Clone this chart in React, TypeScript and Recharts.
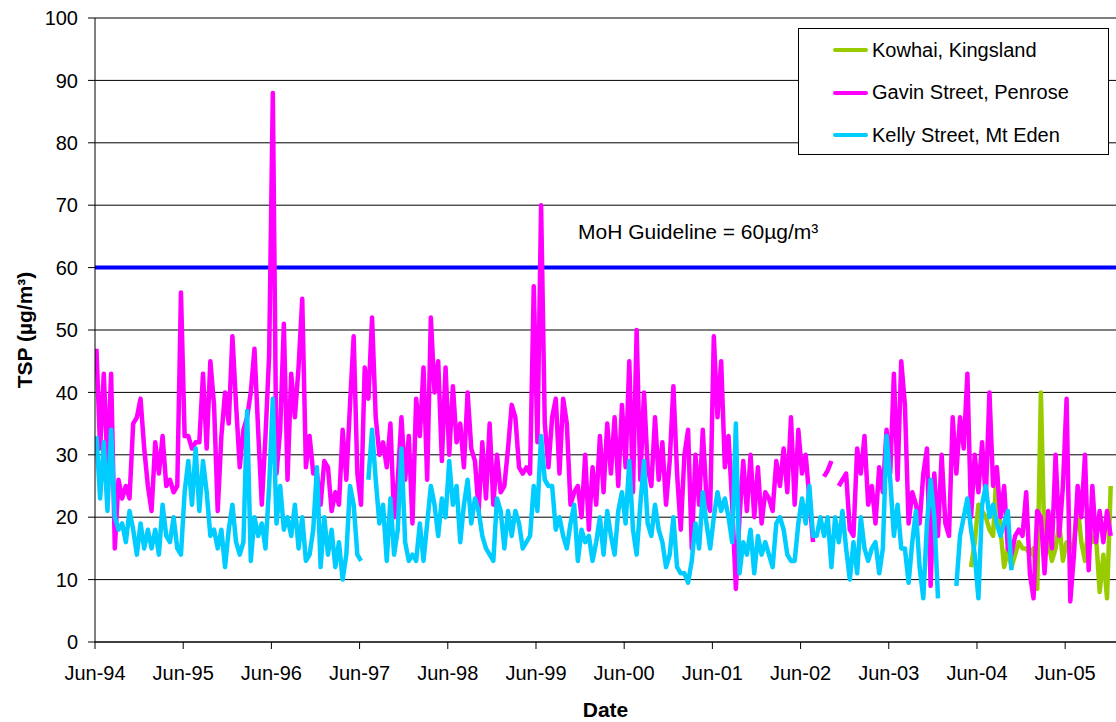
import {
  CartesianGrid,
  Legend,
  Line,
  LineChart,
  ReferenceLine,
  XAxis,
  YAxis,
} from "recharts";

const FONT = "'Liberation Sans', Arial, sans-serif";

// samples are roughly twice a month, first one just after 1 June 1994
const firstSample = 1994.43;
const sampleStep = 1 / 24;

// 1 June of each year as a decimal year
const JUNE = 151 / 365;
const tickYears = [1994, 1995, 1996, 1997, 1998, 1999, 2000, 2001, 2002, 2003, 2004, 2005];
const yTicks = [0, 10, 20, 30, 40, 50, 60, 70, 80, 90, 100];

// TSP, ug/m3
const gavin = [
  47, 31, 43, 28, 43, 15, 26, 23, 25, 23, 35, 36, 39, 31, 25, 21, 32, 27, 33, 25,
  26, 24, 25, 56, 33, 33, 31, 32, 32, 43, 31, 45, 38, 21, 33, 40, 35, 49, 38, 28,
  34, 36, 40, 47, 34, 22, 33, 46, 88, 27, 34, 51, 26, 43, 36, 44, 55, 28, 33, 27,
  27, 22, 29, 28, 21, 24, 22, 34, 26, 38, 49, 27, 22, 44, 39, 52, 36, 30, 32, 28,
  35, 20, 26, 36, 26, 33, 19, 39, 33, 44, 26, 52, 40, 45, 29, 44, 30, 41, 32, 35,
  28, 40, 31, 29, 21, 32, 23, 35, 22, 30, 24, 25, 31, 38, 36, 28, 27, 28, 27, 57,
  32, 70, 35, 28, 36, 39, 27, 39, 35, 22, 24, 25, 20, 30, 18, 28, 22, 33, 24, 35,
  27, 36, 25, 38, 28, 45, 24, 50, 26, 40, 28, 25, 36, 26, 32, 22, 29, 41, 27, 18,
  30, 34, 15, 30, 22, 34, 23, 21, 49, 36, 45, 28, 33, 22, 8.5, 20, 29, 21, 30, 20,
  28, 19, 24, 23, 21, 29, 25, 31, 24, 36, 22, 34, 27, 30, 23, 16, null, null, 26.5, 27.5,
  29, null, 25, 26, 27, 18, 17, 31, 27, 33, 22, 25, 19, 28, 24, 34, 27, 43, 26, 45,
  38, 19, 24, 22, 19, 27, 31, 9, 27, 17, 30, 19, 17, 36, 27, 36, 31, 43, 20, 30,
  24, 32, 23, 40, 25, 28, 20, 25, 15, 14, 17, 18, 17, 24, 11, 7, 21, 20, 11, 21,
  15, 30, 17, 25, 39, 6.5, 14, 25, 20, 30, 11.5, 25, 16, 21, 16, 21, 17,
];

const kelly = [
  33, 23, 32, 21, 34, 20, 18, 19, 16, 21, 18, 14, 19, 15, 18, 15, 18, 14, 22, 17,
  16, 20, 15, 14, 24, 29, 22, 31, 21, 29, 24, 17, 18, 15, 18, 12, 18, 22, 16, 14,
  16, 37, 13, 20, 17, 19, 15, 25, 39, 19, 25, 18, 20, 17, 22, 15, 20, 13, 14, 18,
  28, 12, 20, 14, 18, 12, 16, 10, 14, 25, 22, 14, 13, null, 26, 34, 26, 19, 22, 13,
  23, 14, 18, 31, 16, 13, 14, 13, 19, 13, 19, 25, 22, 17, 23, 20, 29, 22, 25, 16,
  22, 26, 19, 23, 21, 17, 15, 14, 13, 23, 21, 15, 21, 17, 21, 19, 15, 16, 17, 25,
  21, 33, 26, 25, 25, 18, 20, 17, 15, 19, 22, 13, 18, 16, 17, 13, 16, 20, 14, 21,
  17, 14, 21, 24, 19, 29, 18, 14, 22, 29, 19, 17, 22, 18, 16, 12, 14, 20, 12, 11,
  11, 9.5, 13, 19, 15, 24, 19, 15, 20, 24, 21, 23, 20, 16, 35, 11, 16, 14, 18, 11,
  17, 14, 16, 14, 12, 19, 20, 18, 14, 13, 13, 19, 23, 19, 25, 17, 17, 20, 17, 20,
  12, 20, 16, 21, 15, 10, 16, 11, 20, 15, 13, 15, 16, 11, 15, 33, 26, 17, 22, 15,
  15, 9.5, 16, 21, 12, 7, 19, 26, 20, 7, null, null, null, null, 9, 17, 20, 23, 18, 14,
  7, 22, 25, 20, 22, 19, 17, 19, 21, 11.5,
];

// Kowhai monitoring starts mid 2004 (sample 238)
const kowhaiStart = 238;
const kowhai = [
  12, 16, 22, 21, 20, 18, 17, 28, 18, 12, 15, 12, 14, 16, 15, 15, 14, 15, 8.5, 40,
  15, 16, 13, 15, 19, 13, 16, 15, 16, 22, 16, 13, 19, 16, 17, 8, 14, 7, 25,
];

const guideline = 60;

const series = [
  { key: "kowhai", name: "Kowhai, Kingsland", color: "#99CC00" },
  { key: "gavin", name: "Gavin Street, Penrose", color: "#FF00FF" },
  { key: "kelly", name: "Kelly Street, Mt Eden", color: "#00CCFF" },
];

const data = gavin.map((g, i) => ({
  t: firstSample + i * sampleStep,
  gavin: g,
  kelly: i < kelly.length ? kelly[i] : null,
  kowhai: i >= kowhaiStart ? kowhai[i - kowhaiStart] : null,
}));

const xTicks = tickYears.map((y) => y + JUNE);

const LegendBox = () => (
  <div
    style={{
      width: 311,
      height: 127,
      boxSizing: "border-box",
      border: "1px solid #000",
      background: "#fff",
      fontFamily: FONT,
      fontSize: 20,
      color: "#000",
    }}
  >
    {series.map((s) => (
      <div key={s.key} style={{ display: "flex", alignItems: "center", height: 42.5 }}>
        <svg width={35} height={6} style={{ marginLeft: 34 }}>
          <line x1={2} y1={3} x2={33} y2={3} stroke={s.color} strokeWidth={4} strokeLinecap="round" />
        </svg>
        <span style={{ marginLeft: 4, whiteSpace: "nowrap" }}>{s.name}</span>
      </div>
    ))}
  </div>
);

const App = () => {
  return (
    <div style={{ position: "absolute", left: 0, top: 0, background: "#fff" }}>
      <LineChart
        width={1116}
        height={722}
        data={data}
        margin={{ top: 18, right: 0, bottom: 0, left: 0 }}
      >
        <CartesianGrid vertical={false} stroke="#000" strokeWidth={1} />
        <XAxis
          dataKey="t"
          type="number"
          domain={[1994 + JUNE, 2005.99]}
          ticks={xTicks}
          allowDataOverflow
          height={80}
          tickFormatter={(v: number) => `Jun-${String(Math.floor(v) % 100).padStart(2, "0")}`}
          tick={{ fill: "#000", fontSize: 20, fontFamily: FONT }}
          tickSize={7}
          tickMargin={17}
          axisLine={{ stroke: "#000" }}
          tickLine={{ stroke: "#000" }}
          label={(props: any) => {
            const vb = props.viewBox;
            return (
              <text
                x={vb.x + vb.width / 2}
                y={vb.y + 75}
                textAnchor="middle"
                fontFamily={FONT}
                fontSize={21}
                fontWeight="bold"
                fill="#000"
              >
                Date
              </text>
            );
          }}
        />
        <YAxis
          type="number"
          domain={[0, 100]}
          ticks={yTicks}
          width={95}
          tick={{ fill: "#000", fontSize: 20, fontFamily: FONT }}
          tickSize={7}
          tickMargin={10}
          axisLine={{ stroke: "#000" }}
          tickLine={{ stroke: "#000" }}
          label={(props: any) => {
            const vb = props.viewBox;
            const cx = vb.x + 24;
            const cy = vb.y + vb.height / 2;
            return (
              <text
                x={cx}
                y={cy}
                transform={`rotate(-90, ${cx}, ${cy})`}
                textAnchor="middle"
                dominantBaseline="central"
                fontFamily={FONT}
                fontSize={21}
                fontWeight="bold"
                fill="#000"
              >
                TSP (µg/m³)
              </text>
            );
          }}
        />
        <ReferenceLine
          y={guideline}
          stroke="#0000FF"
          strokeWidth={4}
          label={(props: any) => {
            const vb = props.viewBox;
            return (
              <text x={vb.x + 483} y={vb.y - 29} fontFamily={FONT} fontSize={21} fill="#000">
                MoH Guideline = 60µg/m³
              </text>
            );
          }}
        />
        {series.map((s) => (
          <Line
            key={s.key}
            dataKey={s.key}
            name={s.name}
            type="linear"
            stroke={s.color}
            strokeWidth={4.5}
            strokeLinejoin="round"
            dot={false}
            activeDot={false}
            connectNulls={false}
            isAnimationActive={false}
          />
        ))}
        <Legend
          layout="vertical"
          align="center"
          verticalAlign="middle"
          wrapperStyle={{ left: 798, top: 28, width: 311, height: 127 }}
          content={() => <LegendBox />}
        />
      </LineChart>
    </div>
  );
};

export default App;
